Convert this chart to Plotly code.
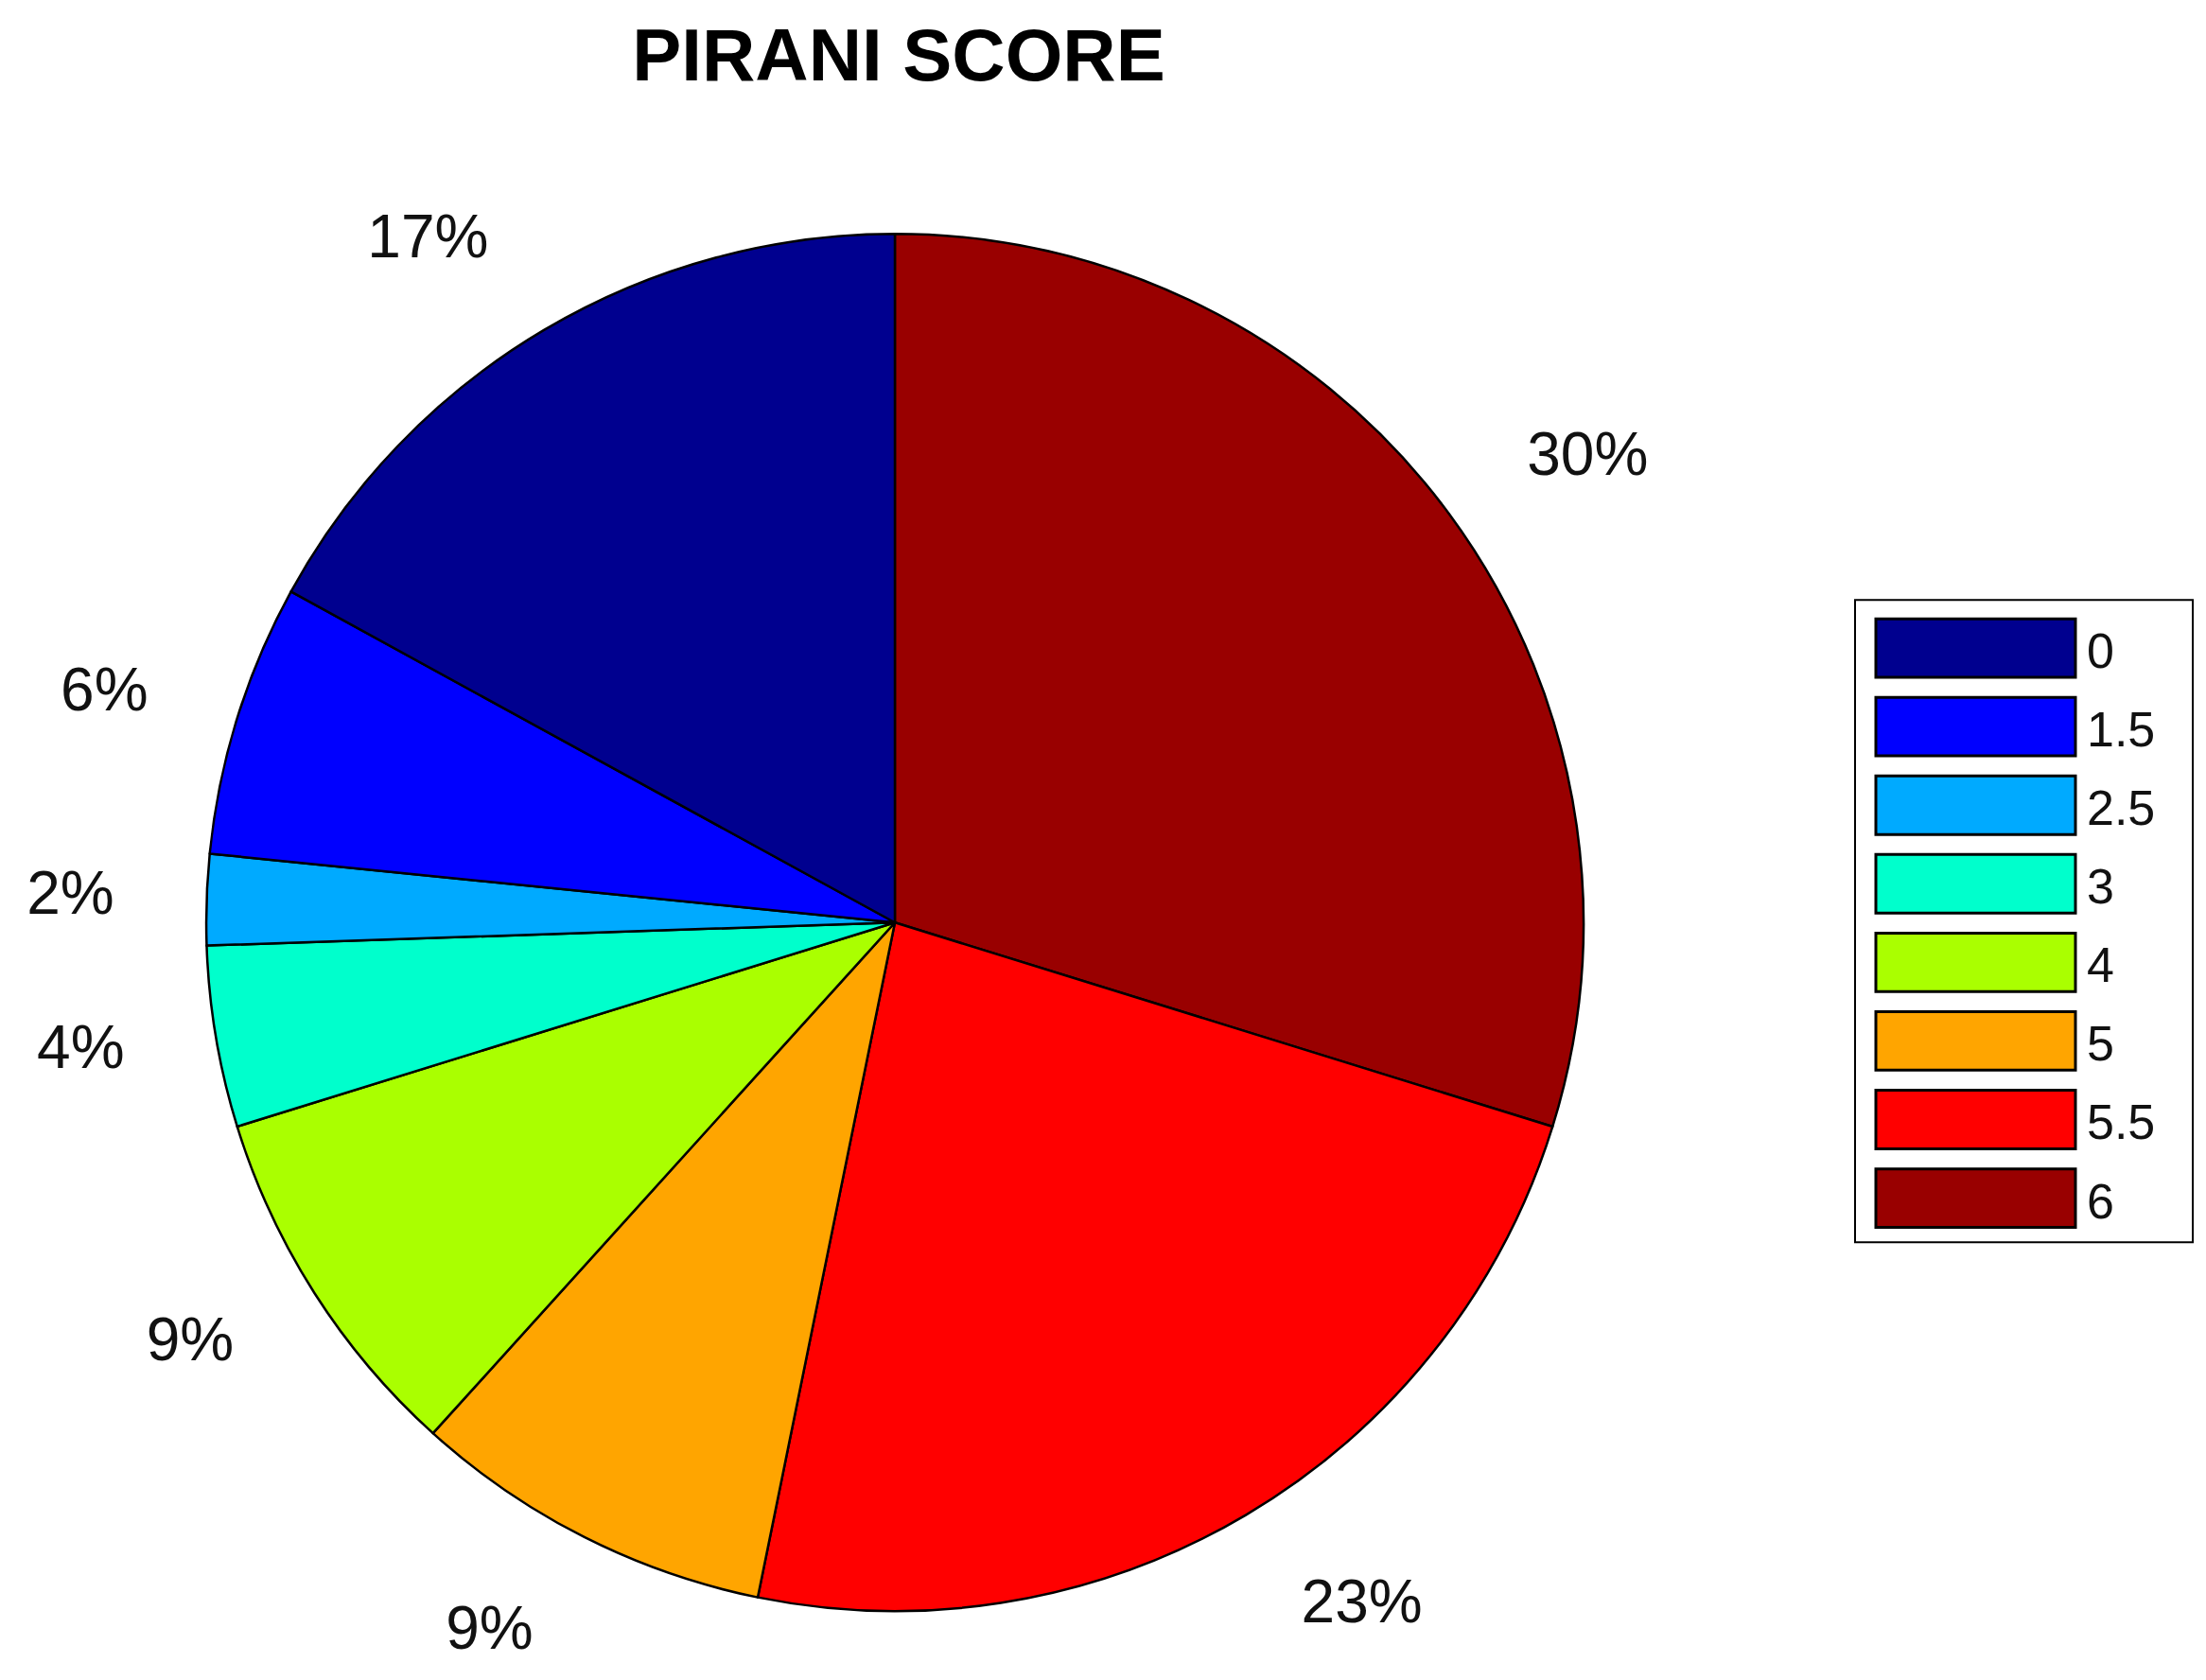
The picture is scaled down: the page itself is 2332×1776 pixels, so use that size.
import plotly.graph_objects as go

# Pirani score distribution (patient counts)
scores = ["0", "1.5", "2.5", "3", "4", "5", "5.5", "6"]
counts = [8, 3, 1, 2, 4, 4, 11, 14]
colors = ["#00008F", "#0000FF", "#00AAFF", "#00FFCC", "#AAFF00", "#FFA500", "#FF0000", "#990000"]

W, H = 2332, 1776
FONT = "Liberation Sans, Arial, sans-serif"

# pie geometry in pixels
cx, cy, r = 938, 970, 730
label_r = r * 1.115

# slices run counterclockwise from 12 o'clock starting at "0":
# same thing as clockwise with the order reversed
pie_labels = scores[::-1]
pie_values = counts[::-1]
pie_colors = colors[::-1]


def domain(radius):
    return {
        "x": [max(0, (cx - radius) / W), min(1, (cx + radius) / W)],
        "y": [max(0, 1 - (cy + radius) / H), min(1, 1 - (cy - radius) / H)],
    }


fig = go.Figure()

# invisible, slightly larger pie that only carries the percent labels
fig.add_trace(go.Pie(
    labels=pie_labels,
    values=pie_values,
    sort=False,
    direction="clockwise",
    rotation=0,
    domain=domain(label_r),
    marker={"colors": ["rgba(0,0,0,0)"] * len(pie_labels), "line": {"width": 0}},
    textinfo="percent",
    texttemplate="%{percent:.0%}",
    textposition="outside",
    textfont={"family": FONT, "size": 64, "color": "#111111"},
    hoverinfo="skip",
    showlegend=False,
))

fig.add_trace(go.Pie(
    labels=pie_labels,
    values=pie_values,
    sort=False,
    direction="clockwise",
    rotation=0,
    domain=domain(r),
    marker={"colors": pie_colors, "line": {"color": "black", "width": 2.5}},
    textinfo="none",
    showlegend=False,
))

# boxed legend with wide swatches, MATLAB style
box_x0, box_x1, box_y0, box_y1 = 1953, 2310, 628, 1309
sw_x0, sw_x1, sw_top, sw_h, pitch = 1975, 2186, 648, 62, 83.3
shapes = [dict(
    type="rect", xref="paper", yref="paper",
    x0=box_x0 / W, x1=box_x1 / W, y0=1 - box_y1 / H, y1=1 - box_y0 / H,
    line={"color": "black", "width": 2}, fillcolor="white",
)]
annotations = []
for i, (lab, col) in enumerate(zip(scores, colors)):
    top = sw_top + i * pitch
    shapes.append(dict(
        type="rect", xref="paper", yref="paper",
        x0=sw_x0 / W, x1=sw_x1 / W, y0=1 - (top + sw_h) / H, y1=1 - top / H,
        line={"color": "black", "width": 3}, fillcolor=col,
    ))
    annotations.append(dict(
        text=lab, xref="paper", yref="paper",
        x=2196 / W, y=1 - (top + sw_h / 2 + 3) / H,
        xanchor="left", yanchor="middle", showarrow=False,
        font={"family": FONT, "size": 52, "color": "#111111"},
    ))

fig.update_layout(
    width=W,
    height=H,
    margin={"l": 0, "r": 0, "t": 0, "b": 0},
    paper_bgcolor="white",
    plot_bgcolor="white",
    title={
        "text": "<b>PIRANI SCORE</b>",
        "x": 942 / W, "xanchor": "center",
        "y": 1 - 50 / H, "yanchor": "middle",
        "yref": "container",
        "font": {"family": FONT, "size": 78, "color": "black"},
    },
    shapes=shapes,
    annotations=annotations,
)

fig.write_html("out.html")
